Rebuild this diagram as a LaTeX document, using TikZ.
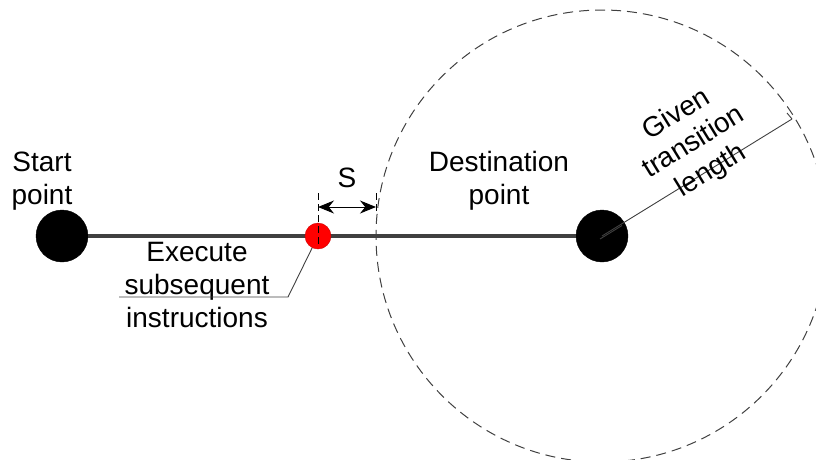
\documentclass[tikz,border=0pt]{standalone}
\usepackage{fontspec}
\setmainfont{Liberation Sans}
\usetikzlibrary{arrows.meta}
\definecolor{linegray}{HTML}{404040}

\begin{document}
\begin{tikzpicture}[x=1pt, y=-1pt, >={Stealth[length=16pt,width=13pt]},
  lbl/.style={align=center, font=\fontsize{28}{33}\selectfont, inner sep=0pt},
  dot/.style={circle, draw=black, fill=black, minimum size=52pt, inner sep=0pt},
  marker/.style={circle, fill=red, draw=red!80!black, minimum size=26pt, inner sep=0pt},
  thin line/.style={draw=linegray, line width=0.9pt}]
\useasboundingbox (0,0) rectangle (816,459);
\clip (0,0) rectangle (816,459);
% transition zone
\draw[linegray, line width=1pt, dash pattern=on 10pt off 6pt] (602,236) circle[radius=226pt];
% path
\node[dot] (start) at (62,236) {};
\node[dot] (dest) at (602,236) {};
\draw[linegray, line width=4pt] (start) -- (dest);
\node[marker] (exec) at (318,236) {};
% dimension s
\draw[black, line width=0.9pt, dash pattern=on 7pt off 4pt] (318,193) -- (318,244);
\draw[black, line width=0.9pt, dash pattern=on 7pt off 4pt] (376,193) -- (376,214);
\coordinate (sL) at (318,207);
\coordinate (sR) at (376,207);
\draw[<->, line width=1pt] (sL) -- (sR);
\node[lbl] (s) at (347,178) {S};
% labels
\node[lbl] (startlbl) at (42,181) {Start\\point};
\node[lbl] (destlbl) at (499,181) {Destination\\point};
\node[lbl] (execlbl) at (197,285) {Execute\\subsequent\\instructions};
\coordinate (bend) at (288,297);
\coordinate (under) at (119,297);
\draw[thin line] (exec) -- (bend) -- (under);
% radius
\coordinate (rim) at (792,119);
\draw[thin line] (dest.center) -- (rim);
\draw[thin line] (rim) -- ++(-5,-6);
\draw[thin line] ([shift={(-2,3)}]dest.center) -- ++(22,-13.5);
\node[lbl, rotate=31.6] (radlbl) at (694,143) {Given\\transition\\length};
\end{tikzpicture}
\end{document}
